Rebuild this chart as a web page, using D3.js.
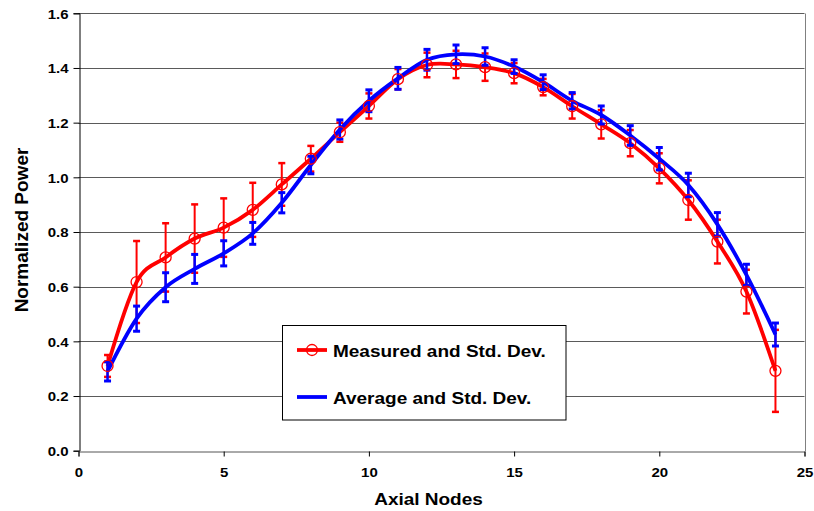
<!DOCTYPE html>
<html>
<head>
<meta charset="utf-8">
<script src="https://cdn.jsdelivr.net/npm/d3@7"></script>
<style>
  html, body { margin: 0; padding: 0; background: #fff; }
  svg { display: block; }
  text { font-family: "Liberation Sans", Arial, sans-serif; font-weight: bold; fill: #000; }
</style>
</head>
<body>
<svg id="chart" width="814" height="511"></svg>
<script>
// ---- data ----
const nodes = [1,2,3,4,5,6,7,8,9,10,11,12,13,14,15,16,17,18,19,20,21,22,23,24];
const measured    = [0.31,0.617,0.707,0.776,0.816,0.881,0.974,1.068,1.165,1.261,1.359,1.411,1.413,1.403,1.381,1.33,1.26,1.194,1.125,1.033,0.917,0.765,0.582,0.292];
const measuredErr = [0.04,0.15,0.125,0.125,0.107,0.099,0.078,0.047,0.035,0.046,0.037,0.045,0.05,0.05,0.037,0.03,0.045,0.052,0.048,0.055,0.072,0.08,0.08,0.15];
const average     = [0.29,0.483,0.598,0.665,0.722,0.795,0.907,1.045,1.175,1.28,1.362,1.43,1.45,1.442,1.405,1.348,1.28,1.228,1.153,1.068,0.972,0.828,0.643,0.425];
const averageErr  = [0.035,0.046,0.053,0.053,0.046,0.04,0.037,0.032,0.035,0.04,0.04,0.038,0.034,0.032,0.025,0.027,0.03,0.033,0.036,0.041,0.043,0.043,0.039,0.042];
const xTicks = [0,5,10,15,20,25];
const yTicks = [0,0.2,0.4,0.6,0.8,1.0,1.2,1.4,1.6];
const seriesNames = ["Measured and Std. Dev.", "Average and Std. Dev."];
const xTitle = "Axial Nodes";
const yTitle = "Normalized Power";

// ---- layout ----
const L = 78.5, R = 804.5, T = 13.3, B = 450.7;
const svg = d3.select("#chart");
const x = d3.scaleLinear().domain([0,25]).range([L,R]);
const y = d3.scaleLinear().domain([0,1.6]).range([B,T]);
const SQ = 0.88; // vertical squash of horizontal text

// gridlines
svg.append("g").selectAll("line").data(yTicks.filter(d => d > 0)).join("line")
  .attr("x1", L).attr("x2", R)
  .attr("y1", d => Math.round(y(d)) + 0.5).attr("y2", d => Math.round(y(d)) + 0.5)
  .attr("stroke", "#5a5a5a").attr("stroke-width", 1);
// right border
svg.append("line").attr("x1", Math.round(R)+0.5).attr("x2", Math.round(R)+0.5)
  .attr("y1", Math.round(T)+0.5).attr("y2", Math.round(B)+0.5)
  .attr("stroke", "#808080").attr("stroke-width", 1);

// axes
const yAxis = d3.axisLeft(y).tickValues(yTicks).tickSize(6).tickFormat(d3.format(".1f"));
const gy = svg.append("g").attr("transform", `translate(${Math.round(L)+0.5},0)`).call(yAxis);
gy.select(".domain").attr("stroke", "#000");
gy.selectAll(".tick line").attr("stroke", "#000");
gy.selectAll(".tick text").remove();
gy.selectAll(".tick").each(function(d) {
  d3.select(this).append("text")
    .attr("transform", `translate(-11,0) scale(1,${SQ})`)
    .attr("text-anchor", "end").attr("dy", "0.36em")
    .style("font-size", "15px").text(d3.format(".1f")(d));
});

const xAxis = d3.axisBottom(x).tickValues(xTicks).tickSize(5).tickFormat(d3.format("d"));
const gx = svg.append("g").attr("transform", `translate(0,${Math.round(B)+0.5})`).call(xAxis);
gx.select(".domain").attr("stroke", "#555");
gx.selectAll(".tick line").attr("stroke", "#000");
gx.selectAll(".tick text").remove();
gx.selectAll(".tick").each(function(d) {
  d3.select(this).append("text")
    .attr("transform", `translate(0,25) scale(1,${SQ})`)
    .attr("text-anchor", "middle")
    .style("font-size", "15px").text(d);
});

// titles
svg.append("text").attr("transform", `translate(${(L+R)/2 - 13},505) scale(1,${SQ})`)
  .attr("text-anchor", "middle").style("font-size", "19px").text(xTitle);
svg.append("text").attr("transform", `translate(27.5,${(T+B)/2 - 2}) rotate(-90)`)
  .attr("text-anchor", "middle").style("font-size", "19px").text(yTitle);

// series
const line = d3.line().x(d => x(d[0])).y(d => y(d[1])).curve(d3.curveCardinal.tension(0));
const mData = nodes.map((n,i) => [n, measured[i], measuredErr[i]]);
const aData = nodes.map((n,i) => [n, average[i], averageErr[i]]);

function errorBars(data, color, w, capW) {
  const g = svg.append("g").attr("stroke", color);
  g.selectAll("line.v").data(data).join("line").attr("class","v")
    .attr("x1", d => x(d[0])).attr("x2", d => x(d[0]))
    .attr("y1", d => y(d[1]-d[2])).attr("y2", d => y(d[1]+d[2]))
    .attr("stroke-width", w);
  g.selectAll("line.t").data(data).join("line").attr("class","t")
    .attr("x1", d => x(d[0]) - capW/2).attr("x2", d => x(d[0]) + capW/2)
    .attr("y1", d => y(d[1]+d[2])).attr("y2", d => y(d[1]+d[2]))
    .attr("stroke-width", w + 0.5);
  g.selectAll("line.b").data(data).join("line").attr("class","b")
    .attr("x1", d => x(d[0]) - capW/2).attr("x2", d => x(d[0]) + capW/2)
    .attr("y1", d => y(d[1]-d[2])).attr("y2", d => y(d[1]-d[2]))
    .attr("stroke-width", w + 0.5);
}

svg.append("path").datum(mData).attr("d", line)
  .attr("fill", "none").attr("stroke", "#ff0000").attr("stroke-width", 3.8);
errorBars(mData, "#ff0000", 2, 7);
svg.append("path").datum(aData).attr("d", line)
  .attr("fill", "none").attr("stroke", "#0000ff").attr("stroke-width", 3.8);
errorBars(aData, "#0000ff", 2.5, 7);
svg.append("g").selectAll("circle").data(mData).join("circle")
  .attr("cx", d => x(d[0])).attr("cy", d => y(d[1])).attr("r", 5.5)
  .attr("fill", "none").attr("stroke", "#ff0000").attr("stroke-width", 1.3);

// legend
const lg = svg.append("g");
lg.append("rect").attr("x", 282.5).attr("y", 325.5).attr("width", 283.5).attr("height", 94.5)
  .attr("fill", "#fff").attr("stroke", "#000").attr("stroke-width", 1);
const rows = [{name: seriesNames[0], color: "#ff0000", marker: true, yy: 350},
              {name: seriesNames[1], color: "#0000ff", marker: false, yy: 397}];
rows.forEach(r => {
  lg.append("line").attr("x1", 297).attr("x2", 327).attr("y1", r.yy).attr("y2", r.yy)
    .attr("stroke", r.color).attr("stroke-width", 3.8);
  if (r.marker) lg.append("circle").attr("cx", 312).attr("cy", r.yy).attr("r", 5.5)
    .attr("fill", "none").attr("stroke", r.color).attr("stroke-width", 1.3);
  lg.append("text").attr("transform", `translate(333,${r.yy + 6.5}) scale(1,${SQ})`)
    .style("font-size", "19px").text(r.name);
});
</script>
</body>
</html>
